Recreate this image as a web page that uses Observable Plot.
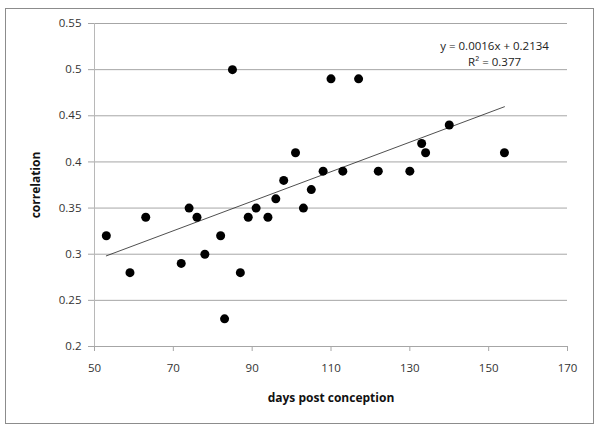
<!DOCTYPE html>
<html>
<head>
<meta charset="utf-8">
<script src="https://cdn.jsdelivr.net/npm/d3@7"></script>
<script src="https://cdn.jsdelivr.net/npm/@observablehq/plot@0.6"></script>
<style>
  html, body { margin: 0; padding: 0; background: #fff; }
  #wrap { position: relative; width: 600px; height: 429px; }
  #border { position: absolute; left: 5px; top: 8px; width: 587px; height: 414px; border: 1px solid #8c8c8c; pointer-events: none; }
  svg { font-family: "Open Sans", sans-serif; }
</style>
</head>
<body>
<div id="wrap"><div id="border"></div></div>
<script>
const days = [53, 59, 63, 72, 74, 76, 78, 82, 83, 85, 87, 89, 91, 94, 96, 98, 101, 103, 105, 108, 110, 113, 117, 122, 130, 133, 134, 140, 154];
const correlation = [0.32, 0.28, 0.34, 0.29, 0.35, 0.34, 0.30, 0.32, 0.23, 0.50, 0.28, 0.34, 0.35, 0.34, 0.36, 0.38, 0.41, 0.35, 0.37, 0.39, 0.49, 0.39, 0.49, 0.39, 0.39, 0.42, 0.41, 0.44, 0.41];
const xTicks = [50, 70, 90, 110, 130, 150, 170];
const yTicks = [0.2, 0.25, 0.3, 0.35, 0.4, 0.45, 0.5, 0.55];
const slope = 0.0016;
const intercept = 0.2134;
const rSquared = 0.377;
const equationText = ["y = 0.0016x + 0.2134", "R² = 0.377"];

const points = days.map((d, i) => ({x: d, y: correlation[i]}));
const xMin = d3.min(days), xMax = d3.max(days);
const trend = [xMin, xMax].map(x => ({x, y: slope * x + intercept}));

const chart = Plot.plot({
  width: 600,
  height: 429,
  marginLeft: 94,
  marginRight: 33,
  marginTop: 23,
  marginBottom: 83,
  style: {fontFamily: "Open Sans, sans-serif", fontSize: "11.5px", background: "transparent"},
  x: {domain: [50, 170]},
  y: {domain: [0.2, 0.55]},
  marks: [
    Plot.ruleY(yTicks.slice(1), {stroke: "#a6a6a6", strokeWidth: 1}),
    Plot.ruleY([0.2], {stroke: "#a6a6a6", strokeWidth: 1}),
    Plot.ruleX([50], {stroke: "#b8b8b8", strokeWidth: 1}),
    Plot.axisY({ticks: yTicks, tickFormat: d => String(+d.toFixed(2)), tickSize: 6, tickPadding: 7, stroke: "#a6a6a6", fill: "#333", label: "correlation", labelAnchor: "center", labelOffset: 63, labelArrow: false}),
    Plot.axisX({ticks: xTicks, tickFormat: d => String(d), tickSize: 5, tickPadding: 12, stroke: "#a6a6a6", fill: "#333", label: "days post conception", labelAnchor: "center", labelOffset: 55, labelArrow: false}),
    Plot.line(trend, {x: "x", y: "y", stroke: "#222", strokeWidth: 0.8}),
    Plot.dot(points, {x: "x", y: "y", r: 4.5, fill: "#000", stroke: "none"}),
    Plot.text([equationText.join("\n")], {x: 151.5, y: 0.518, text: d => d, fontSize: 11.5, fill: "#222", lineHeight: 1.4, textAnchor: "middle"})
  ]
});
d3.select(chart).selectAll("g[aria-label='x-axis label'] text, g[aria-label='y-axis label'] text")
  .attr("font-weight", "bold").attr("font-size", "12px").attr("fill", "#111");
document.getElementById("wrap").prepend(chart);
</script>
</body>
</html>
